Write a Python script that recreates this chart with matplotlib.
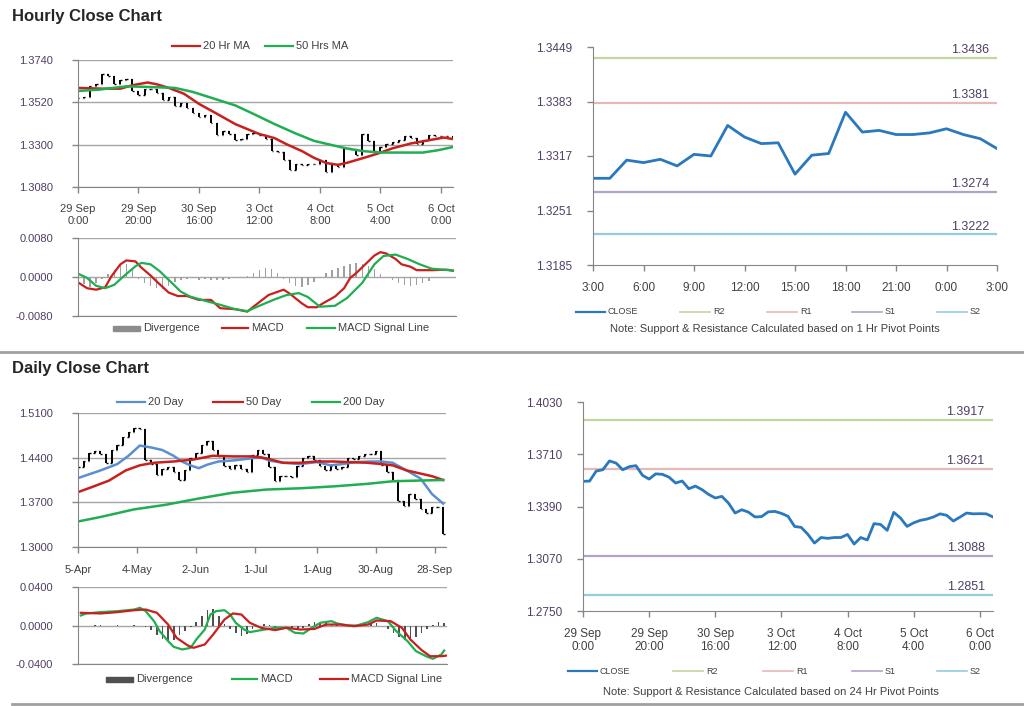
import numpy as np
import matplotlib
matplotlib.use("Agg")
import matplotlib.pyplot as plt
import matplotlib.transforms as mtransforms
from matplotlib.lines import Line2D
from matplotlib.patches import Rectangle

plt.rcParams['font.family'] = ['Liberation Sans', 'DejaVu Sans']

# ---- hourly data (29 Sep 0:00 -> 6 Oct 3:00), one value every 2 hours ----
hour_close = [1.3544, 1.3546, 1.3607, 1.3615, 1.3669, 1.3656, 1.3615, 1.3634, 1.3640, 1.3581,
              1.3558, 1.3590, 1.3587, 1.3570, 1.3534, 1.3546, 1.3499, 1.3515, 1.3493, 1.3464,
              1.3442, 1.3452, 1.3411, 1.3350, 1.3370, 1.3356, 1.3326, 1.3328, 1.3357, 1.3360,
              1.3348, 1.3330, 1.3268, 1.3262, 1.3220, 1.3166, 1.3200, 1.3195, 1.3200, 1.3200,
              1.3219, 1.3160, 1.3200, 1.3185, 1.3285, 1.3280, 1.3244, 1.3354, 1.3320, 1.3268,
              1.3290, 1.3305, 1.3313, 1.3326, 1.3345, 1.3336, 1.3301, 1.3325, 1.3350, 1.3345,
              1.3346, 1.3345, 1.3326]
hour_x = list(range(0, 125, 2))
hour_tick_pos = [0, 20, 40, 60, 80, 100, 120]
hour_tick_labels = ['29 Sep\n0:00', '29 Sep\n20:00', '30 Sep\n16:00', '3 Oct\n12:00',
                    '4 Oct\n8:00', '5 Oct\n4:00', '6 Oct\n0:00']

ma20h_x = [0, 8, 14, 18, 23, 26, 30, 35, 40, 46, 52, 56, 60, 65, 69, 74, 78, 82, 86, 89,
           94, 99, 104, 110, 116, 121, 124]
ma20h_v = [1.3595, 1.3591, 1.3591, 1.3609, 1.3623, 1.3614, 1.3595, 1.3565, 1.3512, 1.3460,
           1.3407, 1.3381, 1.3355, 1.3334, 1.3302, 1.3267, 1.3232, 1.3205, 1.3195, 1.3206,
           1.3229, 1.3253, 1.3281, 1.3306, 1.3323, 1.3337, 1.3329]
ma50h_x = [0, 7, 16, 23, 32, 38, 45, 52, 58, 65, 72, 78, 85, 89, 94, 100, 107, 114, 119, 124]
ma50h_v = [1.3579, 1.3586, 1.3603, 1.3600, 1.3595, 1.3574, 1.3539, 1.3504, 1.3460, 1.3407,
           1.3358, 1.3320, 1.3294, 1.3280, 1.3267, 1.3259, 1.3259, 1.3259, 1.3271, 1.3288]

hmacd_x = [0, 3, 6, 9, 11, 14, 16, 19, 21, 24, 26, 30, 33, 36, 40, 44, 47, 52, 56, 58,
           63, 68, 70, 74, 76, 79, 81, 85, 88, 90, 92, 95, 98, 100, 102, 105, 107, 110, 112, 117,
           122, 124]
hmacd_v = [-0.0011, -0.0023, -0.0026, -0.0021, 0.0001, 0.0026, 0.0034, 0.0032, 0.0019, 0.0003,
           -0.0009, -0.0032, -0.0039, -0.0039, -0.0047, -0.0047, -0.0064, -0.0066, -0.0071, -0.0061,
           -0.0037, -0.0026, -0.0034, -0.0054, -0.0062, -0.0062, -0.0054, -0.0040, -0.0023, -0.0002,
           0.0008, 0.0026, 0.0044, 0.0051, 0.0048, 0.0037, 0.0026, 0.0021, 0.0014, 0.0014,
           0.0015, 0.0013]
hsig_x = [0, 3, 6, 9, 12, 15, 19, 21, 24, 27, 31, 34, 37, 41, 47, 52, 56, 60, 65, 69,
          73, 76, 80, 85, 89, 94, 98, 101, 105, 109, 113, 117, 121, 124]
hsig_v = [0.0007, -0.0002, -0.0018, -0.0023, -0.0016, 0.0001, 0.0022, 0.0029, 0.0026, 0.0012,
          -0.0012, -0.0030, -0.0040, -0.0047, -0.0057, -0.0066, -0.0070, -0.0059, -0.0046, -0.0037,
          -0.0033, -0.0041, -0.0061, -0.0059, -0.0043, -0.0012, 0.0026, 0.0043, 0.0046, 0.0037,
          0.0026, 0.0017, 0.0015, 0.0013]
hdiv = [-0.0008, -0.0015, -0.0020, -0.0012, -0.0004, 0.0006, 0.0015, 0.0024, 0.0026, 0.0018,
        -0.0005, -0.0012, -0.0018, -0.0022, -0.0024, -0.0018, -0.0010, -0.0006, -0.0005, -0.0003,
        -0.0006, -0.0004, -0.0006, -0.0007, -0.0006, -0.0004, -0.0003, -0.0002, 0.0002, 0.0008,
        0.0014, 0.0019, 0.0016, 0.0008, -0.0004, -0.0012, -0.0018, -0.0020, -0.0016, -0.0010,
        -0.0002, 0.0008, 0.0014, 0.0018, 0.0022, 0.0026, 0.0028, 0.0026, 0.0022, 0.0016,
        0.0006, 0.0001, -0.0006, -0.0012, -0.0016, -0.0018, -0.0016, -0.0012, -0.0008, -0.0003,
        -0.0002, 0.0001, -0.0002]

# ---- last 24 hours, 1 hour pivots ----
h1_close = [1.3290, 1.3290, 1.3312, 1.3309, 1.3313, 1.3305, 1.3319, 1.3317, 1.3354, 1.3340,
            1.3332, 1.3333, 1.3295, 1.3318, 1.3320, 1.3370, 1.3346, 1.3348, 1.3343, 1.3343,
            1.3345, 1.3350, 1.3343, 1.3338, 1.3326]
h1_tick_labels = ['3:00', '6:00', '9:00', '12:00', '15:00', '18:00', '21:00', '0:00', '3:00']
level_names = ['R2', 'R1', 'S1', 'S2']
level_colors = ['#c3d69b', '#e6b9b8', '#b3a2c7', '#93cddd']
hr_levels = [1.3436, 1.3381, 1.3274, 1.3222]
day_levels = [1.3917, 1.3621, 1.3088, 1.2851]

# ---- daily data (5-Apr -> 4-Oct), one value every 2 trading days ----
day_close = [1.426, 1.435, 1.447, 1.450, 1.445, 1.431, 1.452, 1.460, 1.473, 1.481,
             1.487, 1.485, 1.437, 1.430, 1.413, 1.423, 1.426, 1.418, 1.405, 1.420,
             1.440, 1.447, 1.460, 1.466, 1.452, 1.442, 1.427, 1.423, 1.428, 1.423,
             1.418, 1.444, 1.452, 1.445, 1.426, 1.404, 1.412, 1.412, 1.409, 1.427,
             1.440, 1.443, 1.437, 1.427, 1.420, 1.427, 1.422, 1.425, 1.440, 1.438,
             1.443, 1.446, 1.445, 1.450, 1.428, 1.418, 1.405, 1.372, 1.365, 1.383,
             1.375, 1.360, 1.353, 1.362, 1.362, 1.320]
day_x = list(range(0, 131, 2))
day_tick_pos = [0, 21, 42, 63, 85, 106, 127]
day_tick_labels = ['5-Apr', '4-May', '2-Jun', '1-Jul', '1-Aug', '30-Aug', '28-Sep']

ma20d_x = [0, 8, 14, 18, 22, 26, 30, 34, 37, 40, 43, 46, 50, 55, 60, 65, 68, 73, 79, 85,
           90, 94, 99, 104, 108, 112, 117, 122, 126, 130]
ma20d_v = [1.408, 1.420, 1.430, 1.443, 1.459, 1.456, 1.452, 1.443, 1.434, 1.428,
           1.4235, 1.429, 1.434, 1.4355, 1.438, 1.441, 1.4355, 1.432, 1.430, 1.433,
           1.428, 1.430, 1.433, 1.434, 1.434, 1.432, 1.420, 1.407, 1.383, 1.368]
ma50d_x = [0, 5, 11, 17, 22, 27, 34, 41, 48, 55, 62, 67, 73, 79, 85, 91, 97, 103, 108, 112,
           117, 122, 126, 130]
ma50d_v = [1.386, 1.394, 1.404, 1.420, 1.428, 1.432, 1.434, 1.437, 1.443, 1.442,
           1.442, 1.439, 1.432, 1.432, 1.434, 1.434, 1.433, 1.432, 1.430, 1.428,
           1.420, 1.415, 1.411, 1.405]
ma200d_x = [0, 8, 20, 31, 43, 55, 67, 79, 91, 103, 112, 120, 130]
ma200d_v = [1.340, 1.347, 1.359, 1.366, 1.376, 1.385, 1.390, 1.392, 1.395, 1.399,
            1.403, 1.404, 1.405]

dmacd_x = [1, 3, 8, 14, 20, 22, 24, 27, 29, 32, 34, 37, 40, 42, 45, 47, 49, 52, 54, 56,
           59, 61, 65, 70, 74, 77, 80, 83, 86, 90, 92, 96, 99, 103, 106, 110, 113, 117, 120, 124,
           126, 129, 130]
dmacd_v = [0.0104, 0.0125, 0.0139, 0.0149, 0.0166, 0.0184, 0.0149, 0.0045, -0.0059, -0.0163,
           -0.0222, -0.0249, -0.0232, -0.0145, -0.0042, 0.0114, 0.0149, 0.0159, 0.0114, 0.0028,
           -0.0042, -0.0069, -0.0048, -0.0024, -0.0024, -0.0076, -0.0083, -0.0024, 0.0028, 0.0045,
           0.0021, 0.0000, 0.0000, 0.0035, 0.0080, 0.0045, -0.0059, -0.0163, -0.0267, -0.0325,
           -0.0346, -0.0301, -0.0260]
dsig_x = [1, 8, 14, 20, 24, 28, 32, 35, 39, 41, 45, 48, 52, 55, 58, 61, 65, 70, 74, 79,
          84, 88, 93, 98, 103, 106, 111, 115, 118, 122, 125, 129, 131]
dsig_v = [0.0132, 0.0125, 0.0139, 0.0159, 0.0166, 0.0132, 0.0010, -0.0128, -0.0208, -0.0232,
          -0.0197, -0.0093, 0.0062, 0.0125, 0.0114, 0.0028, -0.0024, -0.0048, -0.0024, -0.0042,
          -0.0035, 0.0010, 0.0010, -0.0007, 0.0010, 0.0052, 0.0045, -0.0024, -0.0145, -0.0256,
          -0.0319, -0.0319, -0.0312]
ddiv = [-0.002, -0.001, 0.000, 0.001, 0.001, 0.000, 0.000, 0.001, 0.000, 0.000,
        0.001, 0.000, -0.002, -0.005, -0.010, -0.014, -0.016, -0.015, -0.010, -0.006,
        -0.002, 0.004, 0.010, 0.016, 0.017, 0.010, 0.002, -0.004, -0.008, -0.011,
        -0.009, -0.004, -0.002, 0.002, 0.001, -0.002, -0.001, 0.000, -0.003, -0.004,
        -0.003, 0.002, 0.004, 0.003, 0.004, 0.002, 0.001, 0.000, -0.001, 0.000,
        0.001, 0.002, 0.003, 0.003, 0.000, -0.004, -0.008, -0.012, -0.015, -0.016,
        -0.012, -0.008, -0.004, 0.001, 0.004, 0.003]

RED = '#c8201e'
GREEN = '#1fae50'
BLUE = '#5b8fcf'
CLOSE_BLUE = '#2a78bd'
GRID = '#a6a6a6'
AXC = '#868686'
TXT = '#404040'
YTXT = '#4f3f63'

W, H = 1024, 706
fig = plt.figure(figsize=(W / 100, H / 100), dpi=100)


def px_axes(l, t, r, b):
    return fig.add_axes([l / W, 1 - b / H, (r - l) / W, (b - t) / H])


def fy(y):
    return 1 - y / H


def style_axes(ax, yticks, fs, ypad, grid):
    ax.set_yticks(yticks)
    ax.set_yticklabels(['%.4f' % v for v in yticks], fontsize=fs, color=YTXT)
    ax.set_ylim(yticks[0], yticks[-1])
    if grid:
        ax.yaxis.grid(True, color=GRID, lw=1)
        ax.set_axisbelow(True)
    for s in ['top', 'right']:
        ax.spines[s].set_visible(False)
    for s in ['left', 'bottom']:
        ax.spines[s].set_color(AXC)
    ax.tick_params(axis='both', color=AXC, length=4, width=1)
    ax.tick_params(axis='y', pad=ypad)


def draw_bars(ax, x, close, tick):
    x = np.asarray(x, dtype=float)
    c = np.asarray(close)
    o = np.r_[c[0], c[:-1]]
    ax.vlines(x, np.minimum(o, c), np.maximum(o, c), color='black', lw=1.4)
    ax.hlines(o, x - tick, x, color='black', lw=1)
    ax.hlines(c, x, x + tick, color='black', lw=1)


def legend_line(x0, x1, y, text, color, lw=1.6, fs=8):
    fig.add_artist(Line2D([x0 / W, x1 / W], [fy(y)] * 2, color=color, lw=lw))
    fig.text((x1 + 3) / W, fy(y), text, fontsize=fs, va='center', color=TXT)


def legend_box(x0, x1, y, text, color, fs=8):
    fig.add_artist(Rectangle((x0 / W, fy(y + 2.5)), (x1 - x0) / W, 5 / H, color=color,
                             transform=fig.transFigure))
    fig.text((x1 + 3) / W, fy(y), text, fontsize=fs, va='center', color=TXT)


def level_lines(ax, levels, offset):
    trans = mtransforms.blended_transform_factory(ax.transAxes, ax.transData)
    for lvl, col in zip(levels, level_colors):
        ax.axhline(lvl, color=col, lw=1.6)
        ax.text(0.98, lvl + offset, '%.4f' % lvl, transform=trans,
                ha='right', va='bottom', fontsize=9, color=YTXT)


# titles and separators
fig.text(12 / W, fy(16), 'Hourly Close Chart', fontsize=12, weight='bold', va='center', color='#262626')
fig.text(12 / W, fy(369), 'Daily Close Chart', fontsize=12, weight='bold', va='center', color='#262626')
fig.add_artist(Line2D([0, 1], [fy(352)] * 2, color='#a0a0a0', lw=2))
fig.add_artist(Line2D([12 / W, 1], [fy(704)] * 2, color='#a0a0a0', lw=2))

# ---- hourly price ----
ax = px_axes(78, 60, 453, 187)
draw_bars(ax, hour_x, hour_close, 0.45)
ax.plot(ma20h_x, ma20h_v, color=RED, lw=1.8)
ax.plot(ma50h_x, ma50h_v, color=GREEN, lw=1.8)
style_axes(ax, [1.3080, 1.3300, 1.3520, 1.3740], 8, 14, True)
ax.set_xlim(0, 124)
ax.set_xticks(hour_tick_pos)
ax.set_xticklabels(hour_tick_labels, fontsize=8, color=TXT, linespacing=1.25)
ax.tick_params(axis='x', pad=8)
legend_line(172, 200, 46, '20 Hr MA', RED)
legend_line(265, 293, 46, '50 Hrs MA', GREEN)

# ---- hourly MACD ----
ax = px_axes(78, 238, 456, 316)
ax.bar(hour_x, hdiv, width=0.5, color='#a0a0a0')
ax.plot(hmacd_x, hmacd_v, color=RED, lw=1.6)
ax.plot(hsig_x, hsig_v, color=GREEN, lw=1.6)
style_axes(ax, [-0.008, 0.0, 0.008], 8, 14, True)
ax.set_xlim(0, 125)
ax.set_xticks([])
legend_box(113, 140, 328, 'Divergence', '#8c8c8c')
legend_line(222, 248, 328, 'MACD', RED)
legend_line(307, 335, 328, 'MACD Signal Line', GREEN)

# ---- last 24 hours with 1 hr pivots ----
ax = px_axes(593, 47, 997, 265)
level_lines(ax, hr_levels, 0.0002)
ax.plot(range(len(h1_close)), h1_close, color=CLOSE_BLUE, lw=2)
style_axes(ax, [1.3185, 1.3251, 1.3317, 1.3383, 1.3449], 8.5, 11, False)
ax.set_xlim(0, 24)
ax.set_xticks(range(0, 25, 3))
ax.set_xticklabels(h1_tick_labels, fontsize=8.5, color=TXT)
ax.tick_params(axis='x', pad=8)
legend_line(576, 605, 312, 'CLOSE', CLOSE_BLUE, lw=1.6, fs=6.5)
for (x0, x1), name, col in zip([(680, 710), (767, 797), (852, 882), (937, 967)], level_names, level_colors):
    legend_line(x0, x1, 312, name, col, lw=1.2, fs=6.5)
fig.text(775 / W, fy(329), 'Note: Support & Resistance Calculated based on 1 Hr Pivot Points',
         fontsize=8, ha='center', va='center', color=TXT)

# ---- daily price ----
ax = px_axes(78, 413, 446, 547)
draw_bars(ax, day_x, day_close, 0.55)
ax.plot(ma20d_x, ma20d_v, color=BLUE, lw=1.8)
ax.plot(ma50d_x, ma50d_v, color=RED, lw=1.8)
ax.plot(ma200d_x, ma200d_v, color=GREEN, lw=1.8)
style_axes(ax, [1.3000, 1.3700, 1.4400, 1.5100], 8, 14, True)
ax.set_xlim(0, 131)
ax.set_xticks(day_tick_pos)
ax.set_xticklabels(day_tick_labels, fontsize=8, color=TXT)
ax.tick_params(axis='x', pad=9)
legend_line(117, 145, 402, '20 Day', BLUE)
legend_line(213, 243, 402, '50 Day', RED)
legend_line(312, 340, 402, '200 Day', GREEN)

# ---- daily MACD ----
ax = px_axes(78, 587, 447, 664)
ax.bar(day_x, ddiv, width=0.6, color='#505050')
ax.plot(dmacd_x, dmacd_v, color=GREEN, lw=1.6)
ax.plot(dsig_x, dsig_v, color=RED, lw=1.6)
style_axes(ax, [-0.04, 0.0, 0.04], 8, 14, True)
ax.set_xlim(0, 131)
ax.set_xticks([])
legend_box(106, 133, 679, 'Divergence', '#505050')
legend_line(232, 257, 679, 'MACD', GREEN)
legend_line(320, 348, 679, 'MACD Signal Line', RED)

# ---- last week with 24 hr pivots ----
ax = px_axes(583, 402, 993, 611)
level_lines(ax, day_levels, 0.0012)
ax.plot(hour_x, hour_close, color=CLOSE_BLUE, lw=2)
style_axes(ax, [1.2750, 1.3070, 1.3390, 1.3710, 1.4030], 8.5, 11, False)
ax.set_xlim(0, 124)
ax.set_xticks(hour_tick_pos)
ax.set_xticklabels(hour_tick_labels, fontsize=8.5, color=TXT, linespacing=1.2)
ax.tick_params(axis='x', pad=8)
legend_line(568, 597, 671, 'CLOSE', CLOSE_BLUE, lw=1.6, fs=6.5)
for (x0, x1), name, col in zip([(673, 703), (763, 793), (852, 882), (937, 967)], level_names, level_colors):
    legend_line(x0, x1, 671, name, col, lw=1.2, fs=6.5)
fig.text(771 / W, fy(692), 'Note: Support & Resistance Calculated based on 24 Hr Pivot Points',
         fontsize=8, ha='center', va='center', color=TXT)

fig.savefig('out.png', dpi=100, facecolor='white')
